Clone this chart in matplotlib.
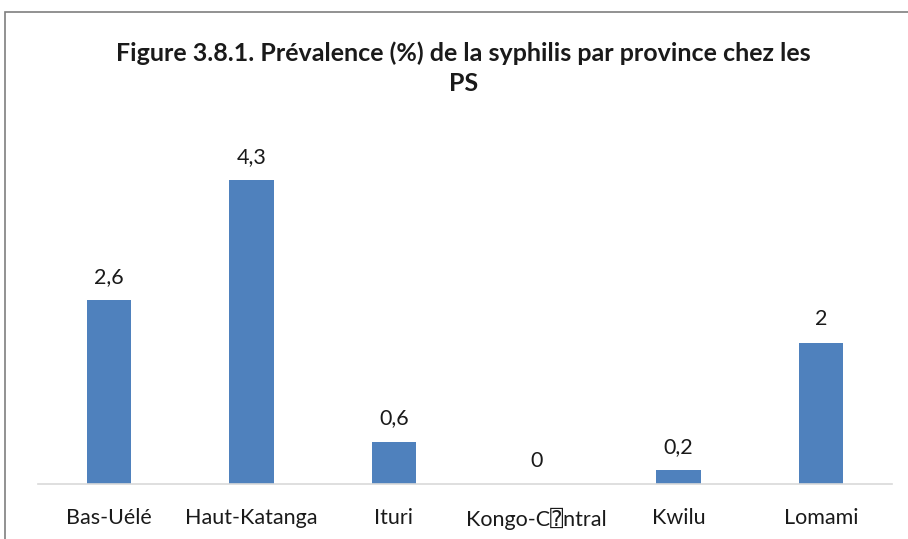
import matplotlib.pyplot as plt
from matplotlib.patches import Rectangle

provinces = ["Bas-Uélé", "Haut-Katanga", "Ituri", "Kongo-C\u2370ntral", "Kwilu", "Lomami"]
prevalence = [2.6, 4.3, 0.6, 0, 0.2, 2]
labels = ["2,6", "4,3", "0,6", "0", "0,2", "2"]

plt.rcParams['font.family'] = ['Lato', 'DejaVu Sans', 'DejaVu Sans Mono']

fig = plt.figure(figsize=(9.08, 5.39), dpi=100)
ax = fig.add_axes([0.0419, 0.102, 0.9405, 0.656])

x = range(len(provinces))
ax.bar(x, prevalence, width=0.31, color="#4f81bd")
for i, (v, t) in enumerate(zip(prevalence, labels)):
    ax.annotate(t, (i, v), xytext=(0, 9.5), textcoords="offset points",
                ha="center", va="bottom", fontsize=15.5, color="#1a1a1a")

ax.set_xlim(-0.5, len(provinces) - 0.5)
ax.set_ylim(0, 5)
ax.set_xticks(list(x))
ax.set_xticklabels(provinces, fontsize=15.5, color="#1a1a1a")
ax.tick_params(axis="x", length=0, pad=17)
ax.set_yticks([])
for s in ["top", "right", "left"]:
    ax.spines[s].set_visible(False)
ax.spines["bottom"].set_color("#d9d9d9")
ax.spines["bottom"].set_linewidth(1.2)

fig.text(0.51, 0.873, "Figure 3.8.1. Prévalence (%) de la syphilis par province chez les\nPS",
         ha="center", va="center", fontsize=18, fontweight="bold",
         linespacing=1.35, color="#1a1a1a")

fig.patches.append(Rectangle((5 / 908, -0.05), 1.0, 1.05 - 12 / 539,
                             transform=fig.transFigure, fill=False,
                             edgecolor="#7f7f7f", linewidth=1.2))

fig.savefig("out.png", dpi=100)
